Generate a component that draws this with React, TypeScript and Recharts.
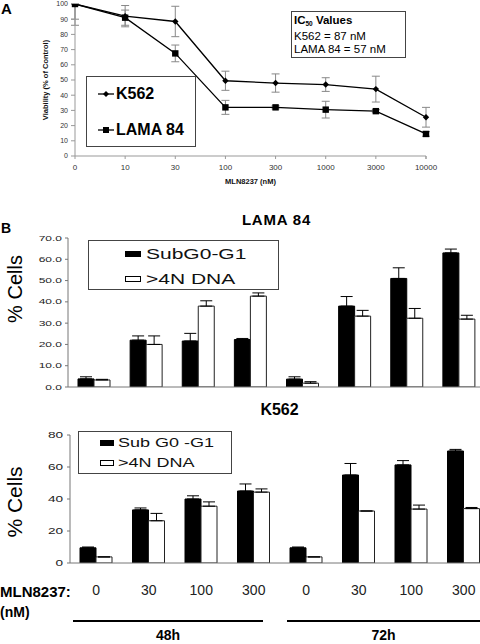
import {
  Bar,
  BarChart,
  ErrorBar,
  Legend,
  Line,
  LineChart,
  XAxis,
  YAxis,
} from "recharts";

const FONT = '"Liberation Sans", Arial, sans-serif';

// Panel A: viability vs MLN8237 dose
const viabilityDoses = ["0", "10", "30", "100", "300", "1000", "3000", "10000"];
const k562Viability = [100, 92, 88.5, 49.5, 48, 47, 44, 25.5];
const k562ViabilityErr = [[14, 0], [7, 7], [10, 10], [6.3, 6.3], [6, 6], [4.5, 4.5], [8.5, 8.5], [6.5, 6.5]];
const lamaViability = [100, 91, 67.5, 32, 32, 30.5, 29.5, 14.5];
const lamaViabilityErr = [[10, 0], [5, 5], [5.5, 5.5], [4.6, 4.6], [1, 1], [5.5, 5.5], [1, 1], [1.5, 1.5]];
const viabilityTicks = [0, 10, 20, 30, 40, 50, 60, 70, 80, 90, 100];

// Panel B: cell cycle fractions
const cycleTimes = ["48h", "48h", "48h", "48h", "72h", "72h", "72h", "72h"];
const cycleDoses = ["0", "30", "100", "300", "0", "30", "100", "300"];
const lamaSubG1 = [3.8, 22, 21.6, 22.3, 3.7, 38, 51, 63];
const lamaSubG1Err = [1, 2, 3.6, 0.5, 1.1, 4.5, 5, 1.8];
const lamaPolyploid = [3.3, 20, 38, 42.7, 1.8, 33.3, 32.3, 31.9];
const lamaPolyploidErr = [0.3, 4, 2.5, 1.5, 0.7, 2.7, 4.6, 1.8];
const k562SubG1 = [9.5, 33.2, 40, 45, 9.5, 55, 61.3, 70];
const k562SubG1Err = [0.5, 1.2, 2, 4.4, 0.5, 7.2, 2.7, 1];
const k562Polyploid = [3.8, 26.4, 35.5, 44.3, 3.8, 32.5, 33.7, 34];
const k562PolyploidErr = [0, 4.6, 2.7, 2, 0, 0, 2.5, 0.7];
const lamaTicks = [0, 10, 20, 30, 40, 50, 60, 70];
const k562Ticks = [0, 20, 40, 60, 80];

const viabilityRows = viabilityDoses.map((dose, i) => ({
  dose,
  k562: k562Viability[i],
  k562Err: k562ViabilityErr[i],
  lama: lamaViability[i],
  lamaErr: lamaViabilityErr[i],
}));

const lamaRows = cycleDoses.map((dose, i) => ({
  key: `${cycleTimes[i]}|${dose}`,
  sub: lamaSubG1[i],
  subErr: [0, lamaSubG1Err[i]],
  poly: lamaPolyploid[i],
  polyErr: [0, lamaPolyploidErr[i]],
}));

const k562Rows = cycleDoses.map((dose, i) => ({
  key: `${cycleTimes[i]}|${dose}`,
  sub: k562SubG1[i],
  subErr: [0, k562SubG1Err[i]],
  poly: k562Polyploid[i],
  polyErr: [0, k562PolyploidErr[i]],
}));

// keep legend rows in series order, not alphabetical
const inOrder = (payload: any[] | undefined, keys: string[]) =>
  (payload || [])
    .slice()
    .sort((a, b) => keys.indexOf(a.dataKey) - keys.indexOf(b.dataKey));

function DiamondDot({ cx, cy }: any) {
  if (cx == null || cy == null) return null;
  const r = 3.2;
  return (
    <path
      d={`M${cx},${cy - r}L${cx + r},${cy}L${cx},${cy + r}L${cx - r},${cy}Z`}
      fill="#000"
    />
  );
}

function SquareDot({ cx, cy }: any) {
  if (cx == null || cy == null) return null;
  const s = 3.2;
  return <rect x={cx - s} y={cy - s} width={s * 2} height={s * 2} fill="#000" />;
}

// x labels in the middle of each band, tick marks on band edges
function DoseTick({ x, y, payload, index, visibleTicksCount }: any) {
  const half = payload?.offset ?? 21.9;
  const axisY = y - 8;
  return (
    <g>
      <line x1={x - half} x2={x - half} y1={axisY} y2={axisY + 3} stroke="#999" />
      {index === visibleTicksCount - 1 && (
        <line x1={x + half} x2={x + half} y1={axisY} y2={axisY + 3} stroke="#999" />
      )}
      <text x={x} y={y} dy="0.71em" textAnchor="middle" fontSize={8} fill="#333">
        {payload.value}
      </text>
    </g>
  );
}

// the scanned panel B is stretched sideways, so its labels are too
const wideTick = (size: number, fmt: (v: number) => string) =>
  function WideTick({ x, y, payload }: any) {
    return (
      <text
        transform={`translate(${x},${y}) scale(1.6,1)`}
        textAnchor="end"
        dy="0.35em"
        fontSize={size}
        fill="#222"
      >
        {fmt(payload.value)}
      </text>
    );
  };

function ViabilityLegend({ payload }: any) {
  return (
    <div
      style={{
        boxSizing: "border-box",
        width: 110,
        height: 71,
        border: "1px solid #444",
        background: "#fff",
        fontFamily: FONT,
        position: "relative",
      }}
    >
      {inOrder(payload, ["k562", "lama"]).map((entry: any, i: number) => (
        <div
          key={entry.value}
          style={{
            position: "absolute",
            left: 11,
            top: i === 0 ? 7 : 43,
            display: "flex",
            alignItems: "center",
            height: 20,
          }}
        >
          <svg width={16} height={10}>
            <line x1={0} x2={16} y1={5} y2={5} stroke="#000" strokeWidth={1.3} />
            {i === 0 ? (
              <path d="M8,2L11,5L8,8L5,5Z" fill="#000" />
            ) : (
              <rect x={5} y={2} width={6} height={6} fill="#000" />
            )}
          </svg>
          <span style={{ fontSize: 16, fontWeight: 700, marginLeft: 2 }}>{entry.value}</span>
        </div>
      ))}
    </div>
  );
}

const swatchLegend = (opts: {
  width: number;
  height: number;
  rowTops: number[];
  swatchLeft: number;
  swatchW: number;
  textLeft: number;
  fontSize: number;
}) =>
  function SwatchLegend({ payload }: any) {
    return (
      <div
        style={{
          boxSizing: "border-box",
          width: opts.width,
          height: opts.height,
          border: "1px solid #444",
          background: "#fff",
          fontFamily: FONT,
          position: "relative",
        }}
      >
        {inOrder(payload, ["sub", "poly"]).map((entry: any, i: number) => (
          <div key={entry.value}>
            <div
              style={{
                position: "absolute",
                left: opts.swatchLeft,
                top: opts.rowTops[i] - 3,
                width: opts.swatchW,
                height: 6,
                boxSizing: "border-box",
                background: entry.color === "#fff" ? "#fff" : "#000",
                border: "1px solid #000",
              }}
            />
            <span
              style={{
                position: "absolute",
                left: opts.textLeft,
                top: opts.rowTops[i] - opts.fontSize * 0.6,
                fontSize: opts.fontSize,
                lineHeight: 1.2,
                whiteSpace: "nowrap",
                transform: "scaleX(1.5)",
                transformOrigin: "left center",
                color: "#111",
              }}
            >
              {entry.value}
            </span>
          </div>
        ))}
      </div>
    );
  };

const LamaLegend = swatchLegend({
  width: 191,
  height: 50,
  rowTops: [13, 38],
  swatchLeft: 36,
  swatchW: 16,
  textLeft: 57,
  fontSize: 14,
});

const K562Legend = swatchLegend({
  width: 154,
  height: 43,
  rowTops: [11, 31],
  swatchLeft: 21,
  swatchW: 14,
  textLeft: 39,
  fontSize: 12,
});

const abs = (left: number, top: number): React.CSSProperties => ({
  position: "absolute",
  left,
  top,
});

export default function App() {
  return (
    <div
      style={{
        position: "absolute",
        left: 0,
        top: 0,
        width: 480,
        height: 644,
        overflow: "hidden",
        background: "#fff",
        fontFamily: FONT,
        color: "#000",
      }}
    >
      <div style={{ ...abs(1, 1), fontSize: 15, fontWeight: 700, lineHeight: "15px" }}>A</div>

      <div style={abs(0, 0)}>
        <LineChart
          width={480}
          height={190}
          data={viabilityRows}
          margin={{ top: 4, right: 54, left: 45, bottom: 14 }}
        >
          <XAxis
            dataKey="dose"
            height={20}
            stroke="#999"
            tickLine={false}
            tickSize={0}
            tickMargin={8}
            tick={<DoseTick />}
            interval={0}
            label={{
              value: "MLN8237 (nM)",
              position: "bottom",
              offset: 3,
              fontSize: 7.5,
              fontWeight: 700,
              fill: "#111",
            }}
          />
          <YAxis
            width={30}
            domain={[0, 100]}
            ticks={viabilityTicks}
            interval={0}
            allowDataOverflow
            stroke="#999"
            tickSize={4}
            tickMargin={3}
            tick={{ fontSize: 7, fill: "#333" }}
            label={{
              value: "Viability (% of Control)",
              angle: -90,
              position: "insideLeft",
              offset: 0,
              fontSize: 7.5,
              fontWeight: 700,
              fill: "#111",
              style: { textAnchor: "middle" },
            }}
          />
          <Line
            dataKey="k562"
            name="K562"
            stroke="#000"
            strokeWidth={1.3}
            dot={DiamondDot}
            isAnimationActive={false}
          >
            <ErrorBar dataKey="k562Err" width={4} stroke="#888" strokeWidth={1} direction="y" />
          </Line>
          <Line
            dataKey="lama"
            name="LAMA 84"
            stroke="#000"
            strokeWidth={1.3}
            dot={SquareDot}
            isAnimationActive={false}
          >
            <ErrorBar dataKey="lamaErr" width={4} stroke="#888" strokeWidth={1} direction="y" />
          </Line>
          <Legend
            layout="vertical"
            align="center"
            verticalAlign="middle"
            wrapperStyle={{ left: 86, top: 76, width: 110, height: 71 }}
            content={<ViabilityLegend />}
          />
        </LineChart>
      </div>

      <div
        style={{
          ...abs(291, 11),
          width: 115,
          height: 47,
          boxSizing: "border-box",
          border: "1px solid #444",
          background: "#fff",
          padding: "2px 0 0 2px",
          fontSize: 11.5,
          lineHeight: "13px",
          whiteSpace: "nowrap",
        }}
      >
        <div style={{ fontWeight: 700 }}>
          IC<sub style={{ fontSize: 6.5, verticalAlign: "-2px" }}>50</sub> Values
        </div>
        <div>K562 = 87 nM</div>
        <div>LAMA 84 = 57 nM</div>
      </div>

      <div style={{ ...abs(1, 220), fontSize: 14, fontWeight: 700 }}>B</div>
      <div
        style={{
          ...abs(68, 211),
          width: 417,
          textAlign: "center",
          fontSize: 15,
          fontWeight: 700,
          letterSpacing: 0.8,
        }}
      >
        LAMA 84
      </div>
      <div
        style={{
          ...abs(-25, 277),
          width: 80,
          textAlign: "center",
          fontSize: 20,
          transform: "rotate(-90deg)",
          lineHeight: "24px",
        }}
      >
        % Cells
      </div>

      <div style={abs(0, 200)}>
        <BarChart
          width={500}
          height={192}
          data={lamaRows}
          barSize={16}
          barGap={0}
          margin={{ top: 38, right: 15, left: 28, bottom: 4 }}
        >
          <XAxis dataKey="key" height={1} tick={false} tickLine={false} stroke="#777" />
          <YAxis
            width={40}
            domain={[0, 70]}
            ticks={lamaTicks}
            interval={0}
            allowDataOverflow
            stroke="#777"
            tickSize={3}
            tickMargin={3}
            tick={wideTick(7.5, (v) => v.toFixed(1))}
          />
          <Bar dataKey="sub" name="SubG0-G1" fill="#000" stroke="#000" isAnimationActive={false}>
            <ErrorBar dataKey="subErr" width={6} stroke="#000" strokeWidth={1} direction="y" />
          </Bar>
          <Bar dataKey="poly" name=">4N DNA" fill="#fff" stroke="#222" isAnimationActive={false}>
            <ErrorBar dataKey="polyErr" width={6} stroke="#000" strokeWidth={1} direction="y" />
          </Bar>
          <Legend
            layout="vertical"
            align="center"
            verticalAlign="middle"
            wrapperStyle={{ left: 88, top: 40, width: 191, height: 50 }}
            content={<LamaLegend />}
          />
        </BarChart>
      </div>

      <div
        style={{
          ...abs(69, 401),
          width: 421,
          textAlign: "center",
          fontSize: 16,
          fontWeight: 700,
        }}
      >
        K562
      </div>
      <div
        style={{
          ...abs(-25, 490),
          width: 80,
          textAlign: "center",
          fontSize: 21,
          transform: "rotate(-90deg)",
          lineHeight: "24px",
        }}
      >
        % Cells
      </div>

      <div style={abs(0, 415)}>
        <BarChart
          width={500}
          height={229}
          data={k562Rows}
          barSize={16}
          barGap={0}
          margin={{ top: 20, right: 10, left: 30, bottom: 41 }}
        >
          <XAxis
            dataKey="key"
            height={40}
            stroke="#777"
            tickLine={false}
            tickSize={0}
            tickMargin={22}
            interval={0}
            tick={{ fontSize: 14, fill: "#222" }}
            tickFormatter={(v: string) => v.split("|")[1]}
          />
          <YAxis
            width={40}
            domain={[0, 80]}
            ticks={k562Ticks}
            interval={0}
            allowDataOverflow
            stroke="#777"
            tickSize={3}
            tickMargin={4}
            tick={wideTick(8.5, (v) => String(v))}
          />
          <Bar dataKey="sub" name="Sub G0 -G1" fill="#000" stroke="#000" isAnimationActive={false}>
            <ErrorBar dataKey="subErr" width={6} stroke="#000" strokeWidth={1} direction="y" />
          </Bar>
          <Bar dataKey="poly" name=">4N DNA" fill="#fff" stroke="#222" isAnimationActive={false}>
            <ErrorBar dataKey="polyErr" width={6} stroke="#000" strokeWidth={1} direction="y" />
          </Bar>
          <Legend
            layout="vertical"
            align="center"
            verticalAlign="middle"
            wrapperStyle={{ left: 78, top: 16, width: 154, height: 43 }}
            content={<K562Legend />}
          />
        </BarChart>
      </div>

      <div style={{ ...abs(0, 583), fontSize: 15, fontWeight: 700 }}>MLN8237:</div>
      <div style={{ ...abs(0, 604), fontSize: 14, fontWeight: 700 }}>(nM)</div>
      <div style={{ ...abs(73, 620), width: 190, height: 2, background: "#000" }} />
      <div style={{ ...abs(287, 620), width: 193, height: 2, background: "#000" }} />
      <div style={{ ...abs(73, 627), width: 190, textAlign: "center", fontSize: 14, fontWeight: 700 }}>
        48h
      </div>
      <div style={{ ...abs(287, 627), width: 193, textAlign: "center", fontSize: 14, fontWeight: 700 }}>
        72h
      </div>
    </div>
  );
}
